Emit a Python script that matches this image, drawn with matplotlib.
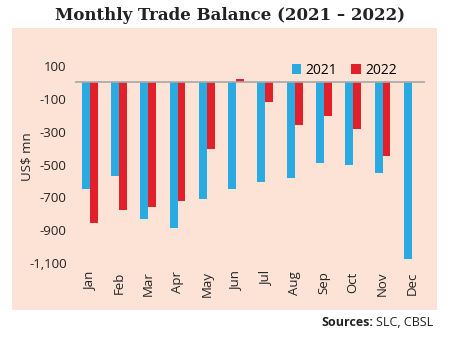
import matplotlib

matplotlib.use("Agg")
import matplotlib.pyplot as plt
import numpy as np
from matplotlib.patches import Rectangle

months = ["Jan", "Feb", "Mar", "Apr", "May", "Jun",
          "Jul", "Aug", "Sep", "Oct", "Nov", "Dec"]
balance_2021 = [-652, -568, -830, -886, -713, -652,
                -604, -582, -491, -501, -552, -1077]
balance_2022 = [-854, -777, -759, -725, -403, 18,
                -121, -262, -205, -286, -447]
yticks = [100, -100, -300, -500, -700, -900, -1100]

BLUE = "#29abe2"
RED = "#e3202a"
PANEL = "#fce3d5"

plt.rcParams["font.family"] = ["Open Sans", "DejaVu Sans"]

fig = plt.figure(figsize=(4.5, 3.43), dpi=100)
fig.patch.set_facecolor("white")

# peach backdrop behind the plot
fig.patches.append(Rectangle((12 / 450, 1 - 310 / 343), 425 / 450, 282 / 343,
                             transform=fig.transFigure, facecolor=PANEL,
                             edgecolor="none", zorder=-5))

ax = fig.add_axes([75 / 450, 1 - 263 / 343, 350 / 450, (263 - 49.6) / 343])
ax.set_facecolor("none")
ax.set_zorder(1)

x = np.arange(len(months))
w = 0.27
ax.bar(x - w / 2, balance_2021, width=w, color=BLUE, label="2021", zorder=2)
ax.bar(x[:len(balance_2022)] + w / 2, balance_2022, width=w, color=RED,
       label="2022", zorder=2)
ax.axhline(0, color="#a8a8a8", linewidth=1.2, zorder=3)

ax.set_xlim(-0.5, 11.45)
ax.set_ylim(-1100, 200)
ax.set_yticks(yticks)
ax.set_yticklabels([f"{v:,}" for v in yticks], fontsize=9.5, color="#222222")
ax.set_xticks(x)
ax.set_xticklabels(months, rotation=90, fontsize=9.5, color="#222222")
ax.tick_params(length=0, pad=6)
for s in ax.spines.values():
    s.set_visible(False)
ax.set_ylabel("US$ mn", fontsize=9.5, color="#222222")
ax.yaxis.set_label_coords(-0.118, 0.5)

ax.legend(loc="upper right", bbox_to_anchor=(0.935, 0.965), ncol=2, frameon=False,
          fontsize=10, handlelength=0.7, handleheight=0.7, handletextpad=0.3,
          columnspacing=1.0, borderaxespad=0)

fig.text(230 / 450, 1 - 15 / 343, "Monthly Trade Balance (2021 \u2013 2022)",
         ha="center", va="center", fontsize=12, fontweight="bold",
         family="DejaVu Serif", color="#222222")

src = fig.text(433 / 450, 1 - 323 / 343, "SLC, CBSL", ha="right", va="center",
               fontsize=9, color="#222222")
fig.canvas.draw()
bb = src.get_window_extent().transformed(fig.transFigure.inverted())
fig.text(bb.x0 - 0.005, 1 - 323 / 343, "Sources:", ha="right", va="center",
         fontsize=9, fontweight="bold", color="#222222")

fig.savefig("out.png", dpi=100)
